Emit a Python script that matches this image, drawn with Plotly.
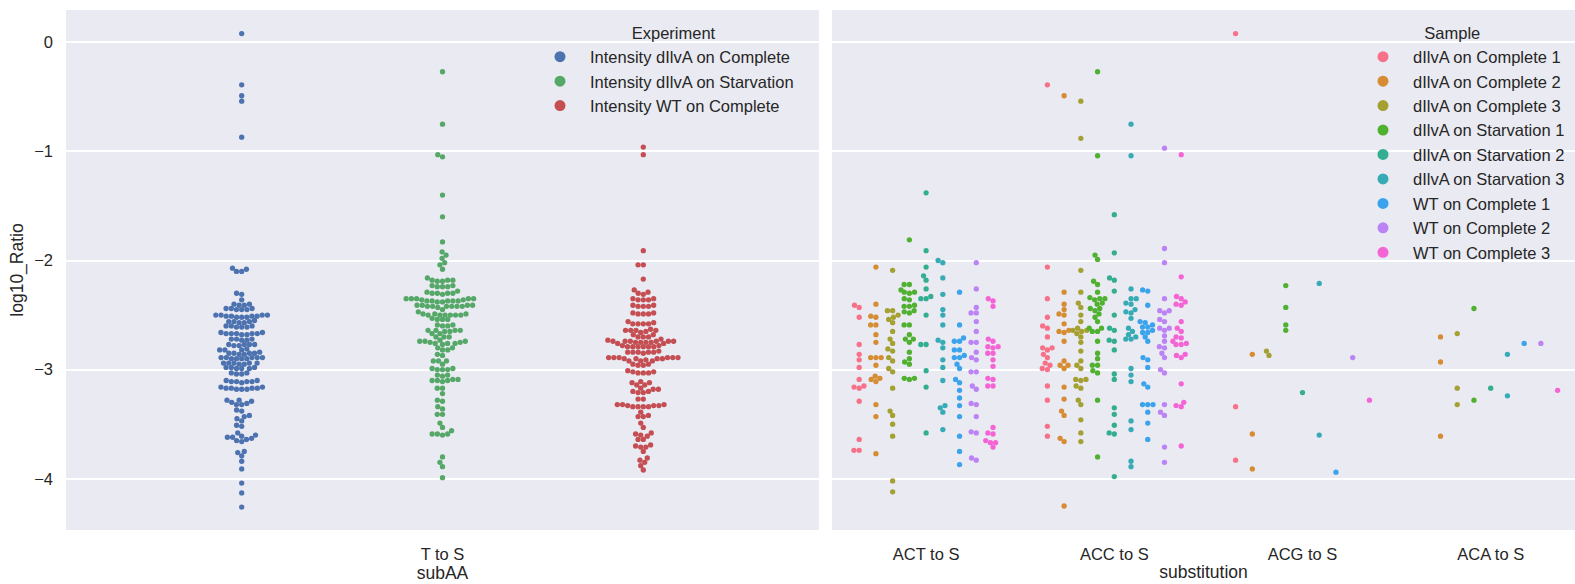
import numpy as np
import plotly.graph_objects as go

# ---------------- data ----------------
subaa_categories = ["T to S"]
experiments = ["Intensity dIlvA on Complete", "Intensity dIlvA on Starvation", "Intensity WT on Complete"]
experiment_colors = ["#4C72B0", "#55A868", "#C44E52"]

t_to_s_dilva_complete = [
    0.08, -0.39, -0.49, -0.54, -0.87,
    -2.07, -2.10, -2.10, -2.08, -2.30, -2.31, -2.36,
    -2.40, -2.41, -2.41, -2.40,
    -2.44, -2.45, -2.44, -2.45, -2.44, -2.45,
    -2.50, -2.51, -2.52, -2.51, -2.50, -2.52, -2.51, -2.52, -2.50, -2.50, -2.51,
    -2.56, -2.55, -2.56, -2.57, -2.56, -2.57,
    -2.60, -2.61, -2.60, -2.61, -2.60, -2.61,
    -2.66, -2.67, -2.67, -2.68, -2.67, -2.66, -2.67, -2.68, -2.67,
    -2.72, -2.72, -2.73, -2.72, -2.73,
    -2.77, -2.77, -2.78, -2.77, -2.78, -2.77,
    -2.82, -2.82, -2.81, -2.82,
    -2.85, -2.85, -2.86, -2.85, -2.84, -2.85, -2.86,
    -2.89, -2.90, -2.89, -2.89, -2.90, -2.89, -2.90, -2.89, -2.90,
    -2.94, -2.94, -2.95, -2.94, -2.94, -2.95, -2.94,
    -2.98, -2.99, -2.98, -2.99, -2.98, -2.99,
    -3.03, -3.04, -3.03, -3.04,
    -3.10, -3.11, -3.11, -3.12, -3.11, -3.10, -3.11,
    -3.16, -3.17, -3.17, -3.18, -3.18, -3.18, -3.17, -3.17, -3.16,
    -3.28, -3.30, -3.32, -3.29, -3.32, -3.31, -3.28,
    -3.37, -3.38, -3.42, -3.45, -3.43, -3.47, -3.51, -3.52,
    -3.58, -3.60, -3.61, -3.62, -3.63, -3.65, -3.66, -3.64, -3.62,
    -3.75, -3.76, -3.79, -3.84, -3.91, -4.04, -4.13, -4.26,
]
t_to_s_dilva_starvation = [
    -0.27, -0.75, -1.03, -1.05, -1.40, -1.60, -1.83,
    -1.92, -1.95, -1.98, -2.04, -2.02, -2.08,
    -2.18, -2.19, -2.16, -2.19, -2.18, -2.18,
    -2.24, -2.24, -2.23, -2.24, -2.23,
    -2.29, -2.31, -2.30, -2.30, -2.30, -2.30, -2.28,
    -2.35, -2.36, -2.37, -2.37, -2.37, -2.37, -2.35, -2.35, -2.35, -2.38, -2.38, -2.37, -2.36, -2.35,
    -2.42, -2.42, -2.41, -2.41, -2.41, -2.41, -2.42, -2.42, -2.42, -2.42, -2.43,
    -2.45, -2.47, -2.50, -2.50, -2.50, -2.50, -2.50, -2.50, -2.49, -2.49, -2.49,
    -2.53, -2.54, -2.54, -2.54,
    -2.59, -2.59, -2.60, -2.60,
    -2.64, -2.67, -2.67, -2.65, -2.65, -2.64, -2.64, -2.64,
    -2.70, -2.70, -2.70,
    -2.74, -2.75, -2.75, -2.77, -2.76, -2.76, -2.76, -2.74, -2.74, -2.73,
    -2.82, -2.80, -2.80, -2.82,
    -2.86, -2.87,
    -2.92, -2.92, -2.92, -2.95,
    -2.99, -3.00, -3.00, -2.99, -3.00,
    -3.05, -3.05, -3.06,
    -3.10, -3.10, -3.10, -3.11, -3.09, -3.09,
    -3.17, -3.17, -3.22, -3.28, -3.29, -3.34, -3.36, -3.41, -3.41, -3.49, -3.53,
    -3.56, -3.59, -3.60, -3.59, -3.59,
    -3.80, -3.85, -3.89, -3.99,
]
t_to_s_wt_complete = [
    -0.96, -1.03, -1.91, -2.04, -2.04, -2.17,
    -2.27, -2.30, -2.31, -2.29,
    -2.36, -2.36, -2.35, -2.35, -2.36,
    -2.42, -2.42, -2.41, -2.41, -2.42,
    -2.48, -2.49, -2.49, -2.49, -2.48,
    -2.56, -2.58, -2.58, -2.58, -2.58, -2.57,
    -2.63, -2.64, -2.66, -2.64, -2.64, -2.64, -2.65,
    -2.68, -2.68, -2.70, -2.70, -2.70,
    -2.74, -2.75, -2.75, -2.74, -2.74, -2.75, -2.76, -2.75, -2.74, -2.74, -2.76, -2.74, -2.73, -2.72,
    -2.78, -2.79, -2.79, -2.79, -2.79, -2.79, -2.79, -2.78,
    -2.84, -2.85, -2.84, -2.84, -2.84, -2.84, -2.83,
    -2.89, -2.89, -2.89, -2.90, -2.92, -2.92, -2.92, -2.91, -2.90, -2.90, -2.90, -2.89, -2.89, -2.89,
    -2.95, -2.96, -2.95, -2.96,
    -3.01, -3.02, -3.03, -3.03, -3.03, -3.02,
    -3.11, -3.12, -3.12, -3.14, -3.14,
    -3.17, -3.18, -3.20, -3.20, -3.18,
    -3.21, -3.21, -3.27, -3.27,
    -3.32, -3.32, -3.33, -3.33, -3.34, -3.34, -3.34, -3.34, -3.33, -3.32,
    -3.39, -3.42, -3.43, -3.43,
    -3.49, -3.53, -3.60, -3.61, -3.59, -3.58, -3.64, -3.64,
    -3.69, -3.71, -3.71, -3.70, -3.75, -3.83, -3.85, -3.81, -3.88, -3.92,
]

substitutions = ["ACT to S", "ACC to S", "ACG to S", "ACA to S"]
samples = ["dIlvA on Complete 1", "dIlvA on Complete 2", "dIlvA on Complete 3",
           "dIlvA on Starvation 1", "dIlvA on Starvation 2", "dIlvA on Starvation 3",
           "WT on Complete 1", "WT on Complete 2", "WT on Complete 3"]
sample_colors = ["#f77189", "#d58c32", "#a4a031", "#50b131", "#34ae91",
                 "#37abb5", "#3ba3ec", "#bb83f4", "#f564d4"]

# ACT to S
act_dc1 = [-2.41, -2.43, -2.52, -2.77, -2.86, -2.91, -2.98, -3.09, -3.15, -3.16, -3.17, -3.29, -3.64, -3.74, -3.74]
act_dc2 = [-2.06, -2.40, -2.51, -2.52, -2.59, -2.59, -2.68, -2.75, -2.89, -2.89, -2.89, -2.96, -3.06, -3.08, -3.09, -3.11, -3.32, -3.43, -3.77]
act_dc3 = [-2.09, -2.46, -2.46, -2.50, -2.52, -2.54, -2.57, -2.65, -2.72, -2.76, -2.81, -2.83, -2.89, -2.92, -2.99, -3.02, -3.17, -3.38, -3.42, -3.50, -3.61, -4.02, -4.12]
act_ds1 = [-1.81, -2.22, -2.22, -2.27, -2.29, -2.30, -2.29, -2.35, -2.36, -2.41, -2.42, -2.42, -2.46, -2.47, -2.48, -2.59, -2.59, -2.68, -2.72, -2.72, -2.75, -2.84, -2.90, -2.93, -2.95, -3.08, -3.08, -3.09]
act_ds2 = [-1.38, -1.91, -2.06, -2.14, -2.18, -2.26, -2.33, -2.35, -2.35, -2.50, -2.77, -2.77, -3.01, -3.16, -3.58]
act_ds3 = [-2.00, -2.02, -2.16, -2.31, -2.45, -2.50, -2.59, -2.73, -2.75, -2.80, -2.91, -2.98, -3.10, -3.33, -3.35, -3.39, -3.55]
act_wt1 = [-2.29, -2.59, -2.71, -2.74, -2.74, -2.82, -2.82, -2.87, -2.89, -2.89, -2.95, -2.99, -3.09, -3.12, -3.19, -3.26, -3.33, -3.43, -3.61, -3.75, -3.87]
act_wt2 = [-2.02, -2.26, -2.43, -2.48, -2.48, -2.56, -2.65, -2.75, -2.75, -2.84, -2.89, -2.91, -3.02, -3.02, -3.15, -3.18, -3.31, -3.32, -3.43, -3.57, -3.58, -3.81, -3.83]
act_wt3 = [-2.35, -2.37, -2.42, -2.72, -2.74, -2.79, -2.79, -2.80, -2.85, -2.85, -2.91, -2.97, -3.08, -3.09, -3.15, -3.15, -3.53, -3.58, -3.59, -3.65, -3.67, -3.67, -3.71]
# ACC to S
acc_dc1 = [-0.39, -2.06, -2.35, -2.52, -2.60, -2.62, -2.70, -2.80, -2.80, -2.82, -2.86, -2.89, -2.94, -2.96, -2.99, -3.00, -3.15, -3.28, -3.52, -3.61]
acc_dc2 = [-0.49, -2.29, -2.40, -2.45, -2.49, -2.50, -2.58, -2.64, -2.65, -2.66, -2.74, -2.92, -2.96, -2.96, -2.99, -3.16, -3.27, -3.38, -3.42, -3.63, -3.66, -4.25]
acc_dc3 = [-0.54, -0.88, -2.09, -2.29, -2.39, -2.43, -2.50, -2.56, -2.62, -2.64, -2.64, -2.65, -2.67, -2.70, -2.75, -2.83, -2.92, -2.96, -2.99, -3.09, -3.09, -3.10, -3.15, -3.17, -3.28, -3.32, -3.46, -3.58, -3.66]
acc_ds1 = [-0.27, -1.04, -1.95, -1.99, -2.19, -2.22, -2.29, -2.34, -2.35, -2.35, -2.36, -2.39, -2.40, -2.44, -2.44, -2.46, -2.49, -2.52, -2.56, -2.62, -2.62, -2.65, -2.65, -2.74, -2.85, -2.90, -2.96, -2.96, -3.01, -3.03, -3.28, -3.80]
acc_ds2 = [-1.58, -1.93, -2.16, -2.18, -2.28, -2.50, -2.62, -2.64, -2.73, -2.74, -2.82, -3.04, -3.09, -3.35, -3.41, -3.51, -3.58, -3.59, -3.98]
acc_ds3 = [-0.75, -1.04, -2.26, -2.35, -2.35, -2.39, -2.40, -2.45, -2.47, -2.48, -2.53, -2.62, -2.65, -2.68, -2.70, -2.72, -2.72, -2.99, -3.05, -3.11, -3.47, -3.55, -3.84, -3.89]
acc_wt1 = [-2.27, -2.28, -2.41, -2.56, -2.57, -2.59, -2.61, -2.61, -2.64, -2.66, -2.66, -2.70, -2.74, -2.89, -2.91, -2.98, -3.13, -3.16, -3.32, -3.32, -3.32, -3.39, -3.49, -3.64]
acc_wt2 = [-0.97, -1.89, -2.02, -2.35, -2.46, -2.46, -2.48, -2.54, -2.56, -2.62, -2.62, -2.64, -2.69, -2.74, -2.79, -2.80, -2.85, -2.89, -3.00, -3.03, -3.32, -3.39, -3.42, -3.71, -3.85]
acc_wt3 = [-1.03, -2.15, -2.33, -2.35, -2.38, -2.40, -2.41, -2.56, -2.62, -2.65, -2.70, -2.71, -2.74, -2.76, -2.77, -2.77, -2.86, -2.87, -2.89, -3.13, -3.30, -3.33, -3.34, -3.70]
# ACG to S
acg_dc1 = [0.08, -3.34, -3.83]
acg_dc2 = [-2.86, -3.59, -3.91]
acg_dc3 = [-2.83, -2.87]
acg_ds1 = [-2.23, -2.43, -2.59, -2.64]
acg_ds2 = [-3.21]
acg_ds3 = [-2.21, -3.60]
acg_wt1 = [-3.94]
acg_wt2 = [-2.89]
acg_wt3 = [-3.28]
# ACA to S
aca_dc1 = []
aca_dc2 = [-2.70, -2.93, -3.61]
aca_dc3 = [-2.67, -3.17, -3.32]
aca_ds1 = [-2.44, -3.28]
aca_ds2 = [-3.17]
aca_ds3 = [-2.86, -3.24]
aca_wt1 = [-2.76]
aca_wt2 = [-2.76]
aca_wt3 = [-3.19]

y_ticks = [-4, -3, -2, -1, 0]
y_tick_labels = ["\u22124", "\u22123", "\u22122", "\u22121", "0"]

# ---------------- layout geometry ----------------
FIG_W, FIG_H = 1575, 584
ML, MR, MT, MB = 66, 0, 10, 54
PLOT_W = FIG_W - ML - MR
PLOT_H = FIG_H - MT - MB
Y_RANGE = [-4.47, 0.296]
PX_PER_Y = PLOT_H / (Y_RANGE[1] - Y_RANGE[0])

DOM1 = [0.0, 753.0 / PLOT_W]
DOM2 = [(832.0 - ML) / PLOT_W, 1.0]
X1_RANGE = [-0.5, 0.5]
PX_PER_X2 = 188.2
X2_RANGE = [-0.5, -0.5 + (DOM2[1] - DOM2[0]) * PLOT_W / PX_PER_X2]
PX_PER_X1 = (DOM1[1] - DOM1[0]) * PLOT_W / (X1_RANGE[1] - X1_RANGE[0])

DOT = 5.0
MARKER = 5.3
FONT = "Liberation Sans, Arial, Helvetica, sans-serif"
TXT = "#262626"
NB = "\u00a0"


def swarm_dx(values, diam=DOT):
    """Beeswarm placement (pixel offsets) like seaborn's swarmplot."""
    y = np.asarray(values, dtype=float) * PX_PER_Y
    out = np.zeros(len(y))
    if len(y) == 0:
        return out
    order = np.argsort(y, kind="mergesort")
    placed = []
    for i in order:
        yi = y[i]
        nb = [(px, py) for px, py in placed if abs(py - yi) < diam]
        cands = [0.0]
        for px, py in nb:
            dx = np.sqrt(max(diam ** 2 - (yi - py) ** 2, 0.0)) * 1.05
            cands.extend([px - dx, px + dx])
        cands = sorted(cands, key=abs)
        chosen = cands[-1]
        for c in cands:
            if all((c - px) ** 2 + (yi - py) ** 2 >= diam ** 2 * 0.999 for px, py in nb):
                chosen = c
                break
        out[i] = chosen
        placed.append((chosen, yi))
    return out


def dodge_offsets(n):
    w = 0.8 / n
    return [-0.4 + w / 2 + k * w for k in range(n)], w


fig = go.Figure()

# ---- left panel: subAA ----
left_series = [t_to_s_dilva_complete, t_to_s_dilva_starvation, t_to_s_wt_complete]
offs, w = dodge_offsets(len(experiments))
for k, (name, color, vals) in enumerate(zip(experiments, experiment_colors, left_series)):
    dx = swarm_dx(vals) / PX_PER_X1
    dx = np.clip(dx, -w / 2, w / 2)
    xs = 0 + offs[k] + dx
    fig.add_trace(go.Scatter(x=xs, y=vals, mode="markers", name=name, showlegend=False,
                             marker=dict(size=MARKER, color=color, line=dict(width=0)),
                             xaxis="x", yaxis="y"))
for name, color in zip(experiments, experiment_colors):
    fig.add_trace(go.Scatter(x=[None], y=[None], mode="markers", name=name, legend="legend",
                             marker=dict(size=11, color=color), xaxis="x", yaxis="y"))

# ---- right panel: substitution ----
sample_series = [
    [act_dc1, acc_dc1, acg_dc1, aca_dc1],
    [act_dc2, acc_dc2, acg_dc2, aca_dc2],
    [act_dc3, acc_dc3, acg_dc3, aca_dc3],
    [act_ds1, acc_ds1, acg_ds1, aca_ds1],
    [act_ds2, acc_ds2, acg_ds2, aca_ds2],
    [act_ds3, acc_ds3, acg_ds3, aca_ds3],
    [act_wt1, acc_wt1, acg_wt1, aca_wt1],
    [act_wt2, acc_wt2, acg_wt2, aca_wt2],
    [act_wt3, acc_wt3, acg_wt3, aca_wt3],
]
offs2, w2 = dodge_offsets(len(samples))
for k, (name, color, per_cat) in enumerate(zip(samples, sample_colors, sample_series)):
    xs_all, ys_all = [], []
    for ci, vals in enumerate(per_cat):
        dx = swarm_dx(vals) / PX_PER_X2
        dx = np.clip(dx, -w2 / 2, w2 / 2)
        xs_all.extend(list(ci + offs2[k] + dx))
        ys_all.extend(vals)
    fig.add_trace(go.Scatter(x=xs_all, y=ys_all, mode="markers", name=name, showlegend=False,
                             marker=dict(size=MARKER, color=color, line=dict(width=0)),
                             xaxis="x2", yaxis="y2"))
for name, color in zip(samples, sample_colors):
    fig.add_trace(go.Scatter(x=[None], y=[None], mode="markers", name=name, legend="legend2",
                             marker=dict(size=11, color=color), xaxis="x2", yaxis="y2"))

axis_common = dict(showgrid=False, zeroline=False, showline=False, ticks="",
                   tickfont=dict(family=FONT, size=16.5, color=TXT))
legend_common = dict(xanchor="left", yanchor="top", bgcolor="rgba(0,0,0,0)", borderwidth=0,
                     font=dict(family=FONT, size=16.5, color=TXT), itemwidth=50,
                     tracegroupgap=0, itemclick=False, itemdoubleclick=False)

fig.update_layout(
    width=FIG_W, height=FIG_H,
    margin=dict(l=ML, r=MR, t=MT, b=MB, pad=0),
    paper_bgcolor="white", plot_bgcolor="#EAEAF2",
    font=dict(family=FONT, color=TXT, size=16.5),
    xaxis=dict(domain=DOM1, range=X1_RANGE, tickvals=[0], ticktext=subaa_categories,
               ticklabelstandoff=12,
               title=dict(text="subAA", font=dict(family=FONT, size=17.5, color=TXT), standoff=4),
               **axis_common),
    xaxis2=dict(domain=DOM2, range=X2_RANGE, tickvals=[0, 1, 2, 3], ticktext=substitutions,
                ticklabelstandoff=12, anchor="y2",
                title=dict(text="substitution", font=dict(family=FONT, size=17.5, color=TXT), standoff=4),
                **axis_common),
    yaxis=dict(range=Y_RANGE, tickvals=y_ticks, ticktext=y_tick_labels, showgrid=True,
               gridcolor="white", gridwidth=1.5, zeroline=False, showline=False, ticks="",
               ticklabelstandoff=12,
               tickfont=dict(family=FONT, size=16.5, color=TXT),
               title=dict(text="log10_Ratio", font=dict(family=FONT, size=17.5, color=TXT), standoff=6)),
    yaxis2=dict(range=Y_RANGE, tickvals=y_ticks, showticklabels=False, showgrid=True,
                gridcolor="white", gridwidth=1.5, zeroline=False, showline=False, ticks="",
                anchor="x2", matches="y"),
    legend=dict(title=dict(text=NB * 4 + "Experiment", side="top center",
                           font=dict(family=FONT, size=16.5, color=TXT)),
                x=(530 - ML) / PLOT_W, y=1 - (18 - MT) / PLOT_H, **legend_common),
    legend2=dict(title=dict(text="Sample" + NB * 4, side="top center",
                            font=dict(family=FONT, size=16.5, color=TXT)),
                 x=(1353 - ML) / PLOT_W, y=1 - (18 - MT) / PLOT_H, **legend_common),
    showlegend=True,
)

fig.write_html("out.html")
